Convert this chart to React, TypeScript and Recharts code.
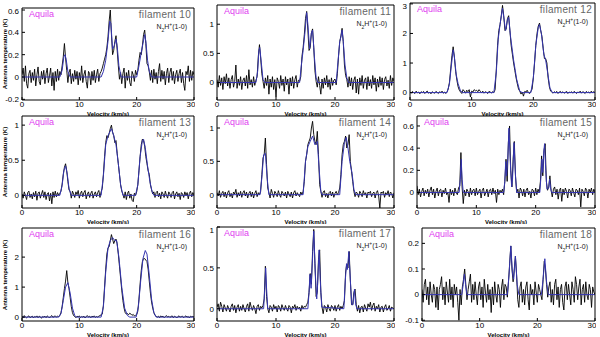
import { Line, LineChart, XAxis, YAxis } from "recharts"

// channel grid, 0.2 km/s steps from 0 to 30
const VELOCITY = Array.from({ length: 151 }, (_, i) => i / 5)
const X_TICKS = [0, 10, 20, 30]

const FIL10_OBS = [
  0.02, 0.08, -0.04, 0.1, -0.06, -0.1, 0.03, 0.06, -0.05, 0.04,
  -0.03, 0.07, -0.08, 0.02, 0.09, -0.04, -0.07, 0.05, -0.02, 0.06,
  -0.06, 0.03, 0.08, -0.05, 0.01, 0.08, -0.08, 0.04, -0.12, 0.05,
  -0.04, 0.07, -0.03, 0.05, 0.02, 0.1, 0.18, 0.3, 0.17, 0.06,
  -0.05, 0.04, 0.07, -0.06, 0.03, -0.04, 0.06, -0.02, 0.05, -0.07,
  0.04, -0.03, 0.1, -0.05, 0.02, 0.06, -0.04, -0.1, 0.05, 0.03,
  -0.07, 0.05, -0.03, 0.06, -0.05, 0.02, 0.07, -0.04, 0.03, 0.05,
  0.08, 0.12, 0.16, 0.2, 0.26, 0.36, 0.5, 0.6, 0.38, 0.2,
  0.24, 0.32, 0.37, 0.24, 0.1, -0.02, 0.04, -0.06, 0.03, 0.08,
  -0.1, 0.04, -0.03, 0.06, -0.05, -0.08, 0.05, 0.02, -0.04, 0.06,
  0.02, 0.06, 0.15, 0.22, 0.2, 0.28, 0.38, 0.42, 0.3, 0.12,
  0.1, 0.05, -0.03, 0.06, -0.05, 0.07, -0.02, 0.04, -0.06, 0.05,
  0.12, -0.04, 0.06, -0.02, 0.05, -0.07, 0.03, 0.08, -0.05, 0.04,
  0.08, -0.03, 0.05, -0.06, 0.02, 0.06, -0.04, 0.03, 0.07, -0.05,
  0.04, -0.06, -0.12, 0.05, 0.02, 0.1, -0.04, 0.06, -0.03, 0.05,
  0.02,
]
const FIL10_FIT = [
  [0, 0], [6.6, 0], [7.0, 0.06], [7.3, 0.18], [7.5, 0.2], [7.7, 0.16], [8.0, 0.05], [8.4, 0],
  [13.8, 0], [14.2, 0.05], [14.6, 0.15], [15.0, 0.32], [15.3, 0.5], [15.5, 0.48], [15.8, 0.25],
  [16.1, 0.28], [16.4, 0.34], [16.6, 0.28], [16.9, 0.1], [17.3, 0],
  [20.0, 0], [20.4, 0.1], [20.8, 0.22], [21.1, 0.3], [21.4, 0.38], [21.6, 0.32], [21.9, 0.15],
  [22.2, 0.05], [22.6, 0], [30, 0],
]

const FIL11_OBS = [
  0.05, -0.08, 0.12, -0.05, 0.08, -0.12, 0.1, -0.02, 0.15, -0.06,
  0.08, -0.1, 0.05, 0.12, -0.08, 0.02, 0.3, -0.1, 0.06, -0.05,
  0.1, -0.12, 0.04, 0.08, -0.06, 0.12, -0.1, 0.22, -0.04, 0.05,
  -0.08, 0.1, -0.05, 0.04, 0.1, 0.45, 0.65, 0.42, 0.15, 0.02,
  -0.1, 0.08, -0.05, 0.12, -0.2, 0.06, -0.08, 0.1, -0.12, 0.05,
  -0.25, 0.08, 0.02, -0.1, 0.12, -0.05, 0.06, -0.15, 0.1, -0.04,
  0.06, -0.2, 0.08, -0.06, 0.1, -0.1, 0.05, 0.12, -0.08, 0.04,
  0.02, 0.1, 0.45, 0.6, 0.82, 1.1, 1.22, 0.9, 0.55, 0.6,
  0.85, 0.92, 0.6, 0.2, 0.02, -0.08, 0.1, -0.05, -0.2, 0.06,
  -0.1, 0.08, -0.04, 0.12, -0.08, 0.05, -0.12, 0.08, -0.05, 0.04,
  0.06, -0.04, 0.15, 0.45, 0.7, 0.8, 0.93, 0.7, 0.3, 0.12,
  0.05, -0.08, 0.1, -0.06, 0.08, -0.12, 0.04, 0.1, -0.18, 0.06,
  -0.2, 0.08, -0.05, 0.12, -0.1, 0.04, 0.08, -0.12, 0.1, -0.06,
  0.05, -0.1, 0.12, -0.04, 0.08, -0.15, 0.06, -0.08, 0.1, -0.05,
  0.08, -0.12, 0.05, 0.1, -0.06, 0.04, -0.1, 0.12, -0.05, 0.08,
  0.02,
]
const FIL11_FIT = [
  [0, 0], [6.6, 0], [6.9, 0.2], [7.1, 0.55], [7.25, 0.6], [7.5, 0.35], [7.8, 0.05], [8.1, 0],
  [14.0, 0], [14.3, 0.3], [14.6, 0.55], [14.9, 0.85], [15.2, 1.2], [15.4, 1.0], [15.7, 0.58],
  [16.0, 0.85], [16.2, 0.9], [16.5, 0.45], [16.8, 0.08], [17.1, 0],
  [20.2, 0], [20.5, 0.35], [20.8, 0.7], [21.0, 0.78], [21.2, 0.9], [21.4, 0.7], [21.7, 0.3],
  [22.0, 0.08], [22.3, 0], [30, 0],
]

const FIL12_OBS = [
  0.03, -0.02, 0.04, 0.0, -0.03, 0.05, -0.01, 0.02, -0.04, 0.03,
  0.0, 0.04, -0.03, 0.02, 0.05, -0.02, 0.01, -0.04, 0.03, 0.0,
  -0.02, 0.04, 0.01, -0.03, 0.03, 0.0, 0.05, -0.02, 0.02, -0.03,
  0.02, 0.12, 0.35, 0.8, 1.25, 1.55, 1.2, 0.72, 0.42, 0.2,
  0.08, 0.02, -0.03, 0.1, 0.05, -0.02, 0.08, 0.03, 0.1, -0.15,
  0.05, 0.02, 0.1, 0.06, 0.08, 0.03, 0.1, 0.04, 0.0, 0.05,
  -0.02, 0.03, 0.01, -0.03, 0.04, 0.02, -0.01, 0.03, 0.0, 0.1,
  0.8, 1.6, 2.1, 2.3, 2.6, 2.95, 2.6, 2.1, 2.15, 2.5,
  2.6, 2.1, 1.6, 1.3, 1.0, 0.75, 0.5, 0.3, 0.12, 0.05,
  -0.05, 0.02, -0.12, 0.04, 0.02, 0.08, 0.0, -0.03, 0.04, 0.12,
  0.5, 1.0, 1.6, 2.0, 2.25, 2.35, 2.1, 1.9, 1.5, 1.15,
  1.15, 1.0, 0.5, 0.2, 0.05, 0.02, -0.02, 0.03, 0.0, 0.04,
  -0.03, 0.02, 0.04, -0.01, 0.03, -0.02, 0.01, 0.04, -0.03, 0.02,
  0.0, 0.03, -0.02, 0.04, 0.01, -0.03, 0.02, 0.0, 0.05, -0.02,
  0.03, 0.01, -0.03, 0.04, 0.0, 0.02, -0.02, 0.05, 0.0, 0.03,
  0.0,
]
const FIL12_FIT = [
  [0, 0], [6.0, 0], [6.4, 0.3], [6.7, 0.9], [7.0, 1.45], [7.2, 1.2], [7.5, 0.6], [7.8, 0.3],
  [8.2, 0.05], [8.6, 0],
  [13.6, 0], [14.0, 0.7], [14.3, 1.8], [14.6, 2.3], [15.0, 2.85], [15.3, 2.4], [15.5, 2.1],
  [15.8, 2.45], [16.0, 2.55], [16.3, 1.9], [16.8, 1.1], [17.3, 0.45], [17.8, 0.05], [18.2, 0],
  [19.6, 0], [20.0, 0.5], [20.4, 1.6], [20.8, 2.2], [21.0, 2.3], [21.3, 2.0], [21.7, 1.3],
  [22.0, 1.1], [22.3, 0.7], [22.7, 0.15], [23.1, 0], [30, 0],
]

const FIL13_OBS = [
  0.02, -0.04, 0.05, 0.0, -0.06, 0.04, 0.06, -0.03, 0.02, -0.05,
  0.04, -0.02, 0.06, -0.07, 0.03, 0.05, -0.04, 0.02, 0.07, -0.03,
  0.05, -0.06, 0.02, 0.04, -0.08, 0.03, -0.12, 0.05, -0.03, 0.06,
  -0.02, 0.04, 0.0, 0.03, 0.06, 0.16, 0.3, 0.4, 0.45, 0.35,
  0.2, 0.08, 0.05, -0.04, 0.06, 0.02, -0.03, 0.05, 0.01, 0.07,
  -0.04, 0.03, 0.06, -0.02, 0.04, 0.07, -0.05, 0.02, 0.05, -0.03,
  0.03, 0.06, -0.04, 0.02, 0.05, -0.02, 0.04, 0.07, -0.03, 0.05,
  0.1, 0.3, 0.55, 0.75, 0.85, 0.82, 0.88, 0.95, 1.0, 0.9,
  0.85, 0.75, 0.78, 0.6, 0.45, 0.3, 0.15, 0.06, 0.02, -0.04,
  0.05, -0.06, 0.03, 0.06, -0.04, 0.02, -0.07, -0.09, 0.03, 0.0,
  0.05, 0.15, 0.35, 0.55, 0.72, 0.8, 0.78, 0.7, 0.55, 0.45,
  0.35, 0.3, 0.15, 0.08, 0.02, 0.05, -0.03, 0.04, 0.06, -0.02,
  0.03, -0.05, 0.05, 0.02, -0.03, 0.06, 0.0, -0.04, 0.05, 0.02,
  -0.03, 0.04, 0.06, -0.05, 0.02, 0.05, -0.02, 0.03, -0.06, 0.04,
  0.02, -0.03, 0.05, 0.0, 0.04, -0.05, 0.03, 0.06, -0.02, 0.04,
  0.0,
]
const FIL13_FIT = [
  [0, 0], [6.6, 0], [7.0, 0.14], [7.3, 0.35], [7.6, 0.42], [7.9, 0.3], [8.2, 0.1], [8.6, 0],
  [13.8, 0], [14.2, 0.28], [14.6, 0.72], [15.0, 0.85], [15.6, 0.95], [16.0, 0.85], [16.4, 0.72],
  [16.8, 0.45], [17.2, 0.15], [17.6, 0],
  [19.8, 0], [20.2, 0.15], [20.6, 0.55], [21.0, 0.78], [21.2, 0.8], [21.5, 0.68], [21.9, 0.42],
  [22.3, 0.2], [22.7, 0.05], [23.0, 0], [30, 0],
]

const FIL14_OBS = [
  0.03, -0.02, 0.06, -0.04, 0.02, 0.05, -0.03, 0.04, -0.05, 0.03,
  0.06, -0.03, 0.02, -0.05, 0.04, 0.01, 0.08, -0.04, 0.03, -0.02,
  0.05, -0.04, 0.03, 0.06, -0.02, 0.04, -0.05, 0.02, 0.05, -0.03,
  0.04, -0.05, 0.02, 0.06, -0.03, 0.03, 0.0, 0.05, 0.3, 0.55,
  0.6, 0.85, 0.45, 0.1, 0.03, -0.05, 0.08, 0.02, -0.04, 0.05,
  0.02, -0.03, 0.06, 0.0, -0.04, 0.05, 0.02, -0.02, 0.04, -0.05,
  0.05, 0.01, -0.03, 0.04, -0.05, 0.03, 0.06, -0.02, 0.03, 0.0,
  -0.03, 0.04, 0.0, 0.05, 0.2, 0.5, 0.6, 0.75, 0.8, 0.85,
  1.0, 1.1, 0.9, 0.8, 0.75, 0.95, 0.6, 0.15, 0.05, -0.04,
  0.04, 0.06, -0.03, 0.02, -0.05, 0.03, 0.05, -0.02, 0.04, -0.04,
  0.02, 0.05, 0.0, 0.03, 0.1, 0.3, 0.6, 0.75, 0.8, 0.88,
  0.7, 0.75, 0.9, 0.5, 0.35, 0.2, 0.05, -0.03, 0.04, 0.02,
  -0.04, 0.05, 0.02, -0.03, 0.06, 0.0, 0.03, -0.05, 0.04, 0.02,
  0.05, -0.03, 0.02, 0.04, -0.05, 0.03, 0.06, -0.02, -0.2, 0.04,
  0.02, 0.05, -0.04, 0.03, 0.0, 0.06, -0.03, 0.04, 0.02, -0.05,
  0.03,
]
const FIL14_FIT = [
  [0, 0], [7.3, 0], [7.6, 0.25], [7.9, 0.6], [8.2, 0.62], [8.5, 0.25], [8.8, 0],
  [14.6, 0], [15.0, 0.5], [15.4, 0.72], [15.8, 0.8], [16.2, 0.88], [16.6, 0.75], [17.0, 0.8],
  [17.3, 0.4], [17.6, 0.05], [17.8, 0],
  [20.8, 0], [21.2, 0.5], [21.6, 0.78], [21.9, 0.86], [22.2, 0.7], [22.5, 0.5], [22.9, 0.32],
  [23.2, 0.08], [23.5, 0], [30, 0],
]

const FIL15_OBS = [
  0.06, -0.02, 0.03, -0.04, 0.01, 0.04, -0.03, 0.02, -0.01, 0.03,
  -0.04, 0.02, 0.05, -0.02, 0.03, -0.05, 0.01, 0.04, -0.03, 0.02,
  0.03, -0.04, 0.02, -0.01, 0.04, -0.02, 0.0, -0.09, 0.03, -0.02,
  0.02, -0.03, 0.04, 0.0, -0.02, 0.04, 0.06, 0.36, 0.05, -0.1,
  0.02, -0.03, 0.03, 0.01, -0.04, 0.04, -0.02, 0.02, 0.03, -0.03,
  0.04, -0.02, 0.01, 0.03, -0.05, 0.02, 0.04, -0.03, 0.0, 0.03,
  -0.04, 0.02, 0.03, -0.02, 0.04, -0.01, 0.02, -0.09, 0.03, -0.02,
  0.02, 0.0, 0.03, -0.02, 0.1, 0.3, 0.1, 0.45, 0.6, 0.2,
  0.05, 0.3, 0.46, 0.15, 0.0, 0.03, -0.05, 0.04, 0.02, -0.03,
  0.03, -0.04, 0.02, 0.04, -0.02, 0.01, -0.05, 0.03, 0.02, -0.03,
  0.04, -0.02, 0.03, 0.0, 0.1, 0.33, 0.15, 0.38, 0.44, 0.1,
  0.02, 0.05, 0.15, 0.02, -0.04, 0.03, 0.05, -0.02, 0.03, -0.06,
  0.02, 0.04, -0.08, 0.03, -0.02, 0.04, 0.01, -0.05, 0.03, 0.02,
  -0.03, 0.04, 0.0, -0.04, 0.03, 0.02, -0.02, 0.04, -0.13, 0.03,
  0.01, -0.03, 0.04, 0.02, -0.05, 0.03, 0.0, 0.04, -0.02, 0.03,
  0.0,
]
const FIL15_FIT = [
  [0, 0], [7.1, 0], [7.3, 0.12], [7.45, 0.3], [7.6, 0.12], [7.8, 0],
  [14.6, 0], [14.8, 0.1], [14.95, 0.28], [15.1, 0.15], [15.3, 0.3], [15.5, 0.58], [15.7, 0.3],
  [15.95, 0.05], [16.1, 0.12], [16.35, 0.45], [16.6, 0.15], [16.8, 0],
  [20.7, 0], [20.9, 0.15], [21.05, 0.3], [21.2, 0.18], [21.35, 0.35], [21.5, 0.44], [21.7, 0.2],
  [21.9, 0.03], [22.2, 0.04], [22.35, 0.12], [22.5, 0.04], [22.7, 0], [30, 0],
]

const FIL16_OBS = [
  0.03, -0.02, 0.05, 0.0, -0.03, 0.02, 0.04, -0.02, 0.01, 0.03,
  -0.03, 0.02, 0.0, 0.04, -0.02, 0.03, 0.01, -0.04, 0.02, 0.0,
  0.03, -0.02, 0.04, 0.01, -0.03, 0.02, 0.05, -0.01, 0.02, 0.04,
  0.0, 0.03, 0.02, 0.05, 0.15, 0.35, 0.65, 0.95, 1.2, 1.55,
  1.15, 0.95, 0.65, 0.35, 0.15, 0.05, 0.02, -0.02, 0.03, 0.01,
  0.04, -0.02, 0.02, 0.0, 0.03, -0.03, 0.02, 0.05, 0.0, 0.03,
  -0.02, 0.03, 0.01, 0.04, -0.01, 0.02, 0.0, 0.03, 0.05, 0.08,
  0.1, 0.4, 1.0, 1.6, 2.1, 2.3, 2.35, 2.55, 2.75, 2.6,
  2.45, 2.55, 2.6, 2.45, 2.1, 1.7, 1.3, 0.9, 0.55, 0.3,
  0.15, 0.1, 0.12, 0.08, 0.13, 0.1, 0.06, 0.09, 0.04, 0.06,
  0.08, 0.2, 0.6, 1.1, 1.55, 1.85, 1.95, 1.95, 1.9, 1.85,
  1.6, 1.2, 0.8, 0.5, 0.3, 0.15, 0.06, 0.03, 0.0, 0.03,
  -0.02, 0.04, 0.01, 0.03, -0.02, 0.02, 0.05, 0.0, 0.03, -0.01,
  0.02, 0.04, -0.02, 0.03, 0.01, -0.03, 0.02, 0.04, 0.0, 0.02,
  0.03, -0.02, 0.02, 0.04, 0.0, 0.02, -0.03, 0.03, 0.01, 0.02,
  0.0,
]
const FIL16_FIT = [
  [0, 0], [6.4, 0], [6.8, 0.12], [7.2, 0.55], [7.6, 1.0], [8.0, 1.15], [8.4, 0.8], [8.8, 0.3],
  [9.2, 0.05], [9.5, 0],
  [13.8, 0], [14.2, 0.35], [14.6, 1.5], [15.0, 2.3], [15.4, 2.55], [15.8, 2.65], [16.2, 2.55],
  [16.5, 2.55], [16.9, 2.0], [17.4, 1.0], [17.9, 0.3], [18.4, 0.05], [18.8, 0],
  [19.9, 0], [20.3, 0.35], [20.7, 1.2], [21.1, 1.95], [21.5, 2.22], [21.8, 2.1], [22.2, 1.4],
  [22.6, 0.6], [23.0, 0.15], [23.4, 0], [30, 0],
]

const FIL17_OBS = [
  0.02, 0.06, -0.03, 0.08, 0.03, -0.04, 0.05, 0.01, -0.03, 0.04,
  0.0, -0.04, 0.03, 0.06, -0.02, 0.04, -0.05, 0.02, 0.05, -0.03,
  0.03, -0.02, 0.05, 0.0, -0.04, 0.03, 0.06, -0.03, 0.08, 0.02,
  -0.02, 0.04, 0.0, -0.06, 0.03, 0.05, -0.02, 0.03, 0.01, 0.04,
  0.12, 0.52, 0.15, 0.0, -0.05, 0.04, 0.02, -0.03, 0.05, 0.0,
  0.03, -0.04, 0.04, 0.02, -0.03, 0.05, 0.01, -0.02, 0.04, 0.0,
  -0.03, 0.04, 0.02, -0.05, 0.03, 0.01, 0.05, -0.02, 0.03, 0.0,
  0.02, -0.03, 0.04, 0.0, 0.03, 0.02, 0.05, 0.08, 0.2, 0.43,
  0.3, 0.7, 0.97, 0.55, 0.15, 0.2, 0.6, 0.72, 0.2, 0.02,
  -0.06, 0.04, 0.02, -0.04, 0.05, 0.0, -0.03, 0.04, 0.02, -0.02,
  0.04, -0.03, 0.02, 0.05, -0.02, 0.03, 0.0, 0.04, 0.1, 0.45,
  0.55, 0.5, 0.7, 0.35, 0.05, 0.05, 0.2, 0.24, 0.05, -0.03,
  0.04, -0.05, 0.02, 0.03, -0.04, 0.05, 0.01, -0.03, 0.06, 0.02,
  0.08, -0.02, 0.04, 0.07, -0.03, 0.03, 0.0, 0.05, -0.04, 0.02,
  0.03, -0.04, 0.02, 0.05, -0.02, 0.0, 0.04, -0.03, 0.02, 0.01,
  0.0,
]
const FIL17_FIT = [
  [0, 0], [7.9, 0], [8.1, 0.25], [8.25, 0.5], [8.4, 0.25], [8.6, 0],
  [15.4, 0], [15.6, 0.2], [15.75, 0.42], [15.95, 0.25], [16.15, 0.55], [16.4, 0.95], [16.65, 0.45],
  [16.9, 0.12], [17.05, 0.3], [17.3, 0.72], [17.5, 0.35], [17.75, 0.02],
  [21.5, 0], [21.75, 0.35], [21.95, 0.55], [22.1, 0.48], [22.35, 0.7], [22.6, 0.35], [22.85, 0.05],
  [23.05, 0.05], [23.3, 0.24], [23.5, 0.06], [23.7, 0], [30, 0],
]

const FIL18_OBS = [
  0.02, -0.03, 0.04, 0.06, -0.02, 0.03, -0.04, 0.05, 0.0, -0.03,
  0.04, 0.02, -0.05, 0.03, -0.06, 0.02, 0.04, 0.07, -0.02, 0.03,
  -0.04, 0.05, 0.01, -0.03, 0.06, -0.02, 0.03, -0.05, 0.04, 0.0,
  0.03, -0.03, -0.1, 0.02, -0.04, 0.03, 0.06, 0.1, 0.04, -0.02,
  0.02, 0.05, 0.08, -0.03, 0.04, -0.02, 0.05, 0.0, -0.04, 0.03,
  0.05, -0.02, 0.03, -0.05, 0.06, 0.01, -0.03, 0.04, -0.02, 0.02,
  -0.07, 0.03, -0.04, 0.05, 0.0, -0.03, 0.04, 0.02, -0.05, 0.03,
  0.06, -0.02, 0.04, 0.03, -0.01, 0.05, 0.12, 0.19, 0.1, 0.05,
  0.1, 0.15, 0.08, -0.02, -0.05, 0.03, 0.05, -0.03, 0.02, -0.04,
  0.03, 0.05, -0.02, -0.06, 0.04, 0.0, 0.02, -0.04, 0.05, 0.01,
  -0.03, 0.04, 0.02, 0.0, -0.02, 0.06, 0.13, 0.1, 0.04, -0.01,
  0.03, 0.05, -0.03, 0.02, -0.04, 0.04, 0.06, -0.02, 0.03, -0.05,
  0.02, 0.04, -0.03, -0.06, 0.03, 0.05, -0.02, 0.04, 0.0, -0.04,
  0.05, 0.02, -0.03, 0.07, 0.04, -0.02, 0.03, 0.06, -0.04, 0.02,
  0.04, -0.03, 0.05, 0.0, -0.02, 0.04, 0.02, -0.05, 0.03, 0.01,
  0.0,
]
const FIL18_FIT = [
  [0, 0], [6.9, 0], [7.15, 0.04], [7.35, 0.08], [7.55, 0.04], [7.8, 0],
  [14.8, 0], [15.1, 0.08], [15.4, 0.19], [15.7, 0.08], [15.9, 0.06], [16.2, 0.15], [16.5, 0.04],
  [16.8, 0],
  [20.7, 0], [21.0, 0.06], [21.3, 0.14], [21.6, 0.05], [21.9, 0], [30, 0],
]

type Box = { l: number; t: number; r: number; b: number }
type Spec = {
  name: string
  obs: number[]
  fit: number[][]
  yDomain: [number, number]
  yTicks: number[]
  box: Box
  yLabel?: boolean
}

const PANELS: Spec[] = [
  { name: "filament 10", obs: FIL10_OBS, fit: FIL10_FIT, yDomain: [-0.206, 0.618], yTicks: [-0.2, 0, 0.2, 0.4, 0.6], box: { l: 22, t: 8, r: 194, b: 100 }, yLabel: true },
  { name: "filament 11", obs: FIL11_OBS, fit: FIL11_FIT, yDomain: [-0.3, 1.33], yTicks: [0, 0.5, 1], box: { l: 217, t: 5, r: 394, b: 100 } },
  { name: "filament 12", obs: FIL12_OBS, fit: FIL12_FIT, yDomain: [-0.25, 3.03], yTicks: [0, 1, 2, 3], box: { l: 410, t: 3, r: 595, b: 100 } },
  { name: "filament 13", obs: FIL13_OBS, fit: FIL13_FIT, yDomain: [-0.18, 1.13], yTicks: [0, 0.5, 1], box: { l: 22, t: 116, r: 194, b: 208 }, yLabel: true },
  { name: "filament 14", obs: FIL14_OBS, fit: FIL14_FIT, yDomain: [-0.2, 1.18], yTicks: [0, 0.5, 1], box: { l: 217, t: 116, r: 394, b: 208 } },
  { name: "filament 15", obs: FIL15_OBS, fit: FIL15_FIT, yDomain: [-0.14, 0.69], yTicks: [0, 0.2, 0.4, 0.6], box: { l: 417, t: 116, r: 595, b: 208 } },
  { name: "filament 16", obs: FIL16_OBS, fit: FIL16_FIT, yDomain: [-0.13, 2.97], yTicks: [0, 1, 2], box: { l: 22, t: 228, r: 194, b: 321 }, yLabel: true },
  { name: "filament 17", obs: FIL17_OBS, fit: FIL17_FIT, yDomain: [-0.15, 1.0], yTicks: [0, 0.5, 1], box: { l: 217, t: 227, r: 394, b: 321 } },
  { name: "filament 18", obs: FIL18_OBS, fit: FIL18_FIT, yDomain: [-0.103, 0.26], yTicks: [-0.1, 0, 0.1, 0.2], box: { l: 422, t: 228, r: 595, b: 321 } },
]

const FONT = '"Liberation Sans", Arial, sans-serif'
const BLUE = "#3434b0"
const PAD_L = 24
const PAD_B = 16

function Panel({ spec }: { spec: Spec }) {
  const { l, t, r, b } = spec.box
  const w = r - l + PAD_L + 1
  const h = b - t + 1 + PAD_B
  const obsData = VELOCITY.map((v, i) => ({ v, y: spec.obs[i] }))
  const fitData = spec.fit.map(([v, y]) => ({ v, y }))
  return (
    <>
      <div style={{ position: "absolute", left: l - PAD_L, top: t - 1 }}>
        <LineChart width={w} height={h} margin={{ top: 0, right: 0, bottom: 0, left: 0 }}>
          <XAxis
            xAxisId="b"
            dataKey="v"
            type="number"
            domain={[0, 30]}
            ticks={X_TICKS}
            allowDataOverflow
            height={PAD_B}
            stroke="#000"
            tickSize={-3}
            tickMargin={4}
            tick={{ fontSize: 8, fill: "#000", fontFamily: FONT }}
            label={{ value: "Velocity (km/s)", position: "insideBottom", offset: 0, fontSize: 6, fontWeight: "bold", fill: "#000", fontFamily: FONT }}
          />
          <XAxis xAxisId="t" orientation="top" dataKey="v" type="number" domain={[0, 30]} ticks={X_TICKS} height={1} stroke="#000" tickSize={-3} tick={false} />
          <YAxis
            yAxisId="l"
            type="number"
            domain={spec.yDomain}
            ticks={spec.yTicks}
            allowDataOverflow
            width={PAD_L}
            stroke="#000"
            tickSize={-3}
            tickMargin={6}
            tick={{ fontSize: 8, fill: "#000", fontFamily: FONT }}
          />
          <YAxis yAxisId="r" orientation="right" type="number" domain={spec.yDomain} ticks={spec.yTicks} allowDataOverflow width={1} stroke="#000" tickSize={-3} tick={false} />
          <Line xAxisId="b" yAxisId="l" data={obsData} dataKey="y" type="linear" stroke="#000" strokeWidth={0.9} dot={false} isAnimationActive={false} />
          <Line xAxisId="b" yAxisId="l" data={fitData} dataKey="y" type="linear" stroke={BLUE} strokeWidth={1} dot={false} isAnimationActive={false} />
        </LineChart>
      </div>
      <div style={{ position: "absolute", left: l + 7, top: t + 2, fontSize: 9, color: "#e040f0", fontFamily: FONT, lineHeight: 1 }}>
        Aquila
      </div>
      <div style={{ position: "absolute", right: 600 - r + 3, top: t + 2, fontSize: 10, color: "#666", fontFamily: FONT, lineHeight: 1, whiteSpace: "nowrap", letterSpacing: 0.3 }}>
        {spec.name}
      </div>
      <div style={{ position: "absolute", right: 600 - r + 7, top: t + 14, fontSize: 7, color: "#222", fontFamily: FONT, lineHeight: 1, whiteSpace: "nowrap" }}>
        N<sub style={{ fontSize: 5 }}>2</sub>H<sup style={{ fontSize: 5 }}>+</sup>(1-0)
      </div>
      {spec.yLabel && (
        <div
          style={{
            position: "absolute",
            left: 5,
            top: (t + b) / 2,
            transform: "translate(-50%, -50%) rotate(-90deg)",
            fontSize: 6,
            fontWeight: "bold",
            fontFamily: FONT,
            whiteSpace: "nowrap",
            lineHeight: 1,
          }}
        >
          Antenna temperature (K)
        </div>
      )}
    </>
  )
}

export default function App() {
  return (
    <div style={{ position: "absolute", left: 0, top: 0, width: 600, height: 337, background: "#fff", overflow: "hidden" }}>
      {PANELS.map((p) => (
        <Panel key={p.name} spec={p} />
      ))}
    </div>
  )
}
